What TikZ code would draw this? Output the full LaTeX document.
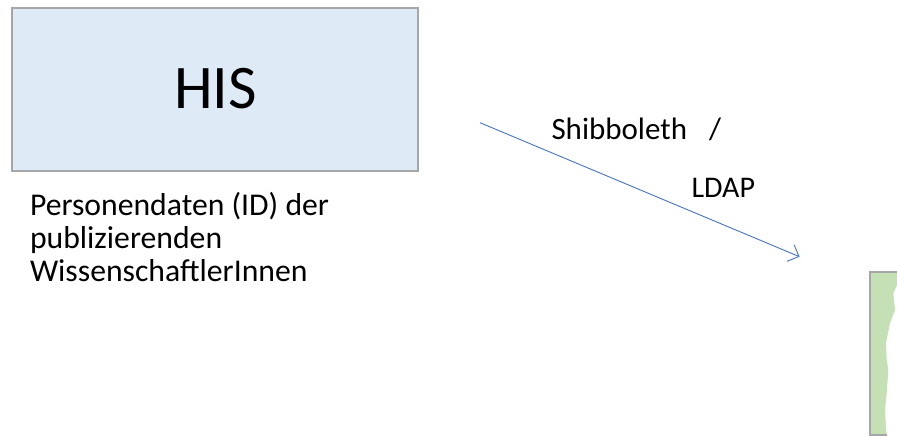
\documentclass[tikz,border=0pt]{standalone}
\usepackage{fontspec}
\setmainfont{Carlito}
\usetikzlibrary{arrows.meta}
\definecolor{boxblue}{HTML}{DEEAF6}
\definecolor{boxgreen}{HTML}{C5E0B4}
\definecolor{boxgray}{HTML}{A6A6A6}
\definecolor{arrowblue}{HTML}{4472C4}
\tikzset{
  sysbox/.style={draw=boxgray, line width=2pt, fill=boxblue},
  plain/.style={inner sep=0pt, outer sep=0pt, text=black},
  link/.style={draw=arrowblue, line width=0.9pt, -{Straight Barb[length=9pt, width=18pt, line width=0.9pt]}}
}
\begin{document}
\begin{tikzpicture}[x=1pt, y=-1pt]
\useasboundingbox (0,0) rectangle (897,436);
% HIS box
\node[sysbox, minimum width=406pt, minimum height=163pt, anchor=north west, inner sep=0pt] (his) at (11,7) {};
\node[plain, font=\fontsize{62}{64}\selectfont, anchor=base] (histext) at (215.5,108) {HIS};
% description
\node[plain, font=\fontsize{31.7}{33}\selectfont, anchor=base west, align=left] (desc) at (30,281.7)
  {Personendaten (ID) der\\publizierenden\\WissenschaftlerInnen};
% labels
\node[plain, font=\fontsize{31}{34}\selectfont, anchor=base west] (shib) at (551.5,139.3) {Shibboleth\hspace{22pt}/};
\node[plain, font=\fontsize{30}{34}\selectfont, anchor=base west] (ldap) at (691.5,197.3) {LDAP};
% arrow
\coordinate (a1) at (480,122.7);
\coordinate (a2) at (799.5,256.7);
\draw[link] (a1) -- (a2);
% green partial box
\fill[boxgreen] (870,271.5) -- (897,271.5) -- (897,285) -- (893.3,293.3) -- (895,310) -- (890,323)
  -- (886,343) -- (886.7,360) -- (888.3,370) -- (886.7,393) -- (885,410) -- (886,427) -- (886.7,434.5)
  -- (870,434.5) -- cycle;
\draw[boxgray, line width=2pt] (897,271.5) -- (869.5,271.5) -- (869.5,434.5) -- (887,434.5);
\end{tikzpicture}
\end{document}
